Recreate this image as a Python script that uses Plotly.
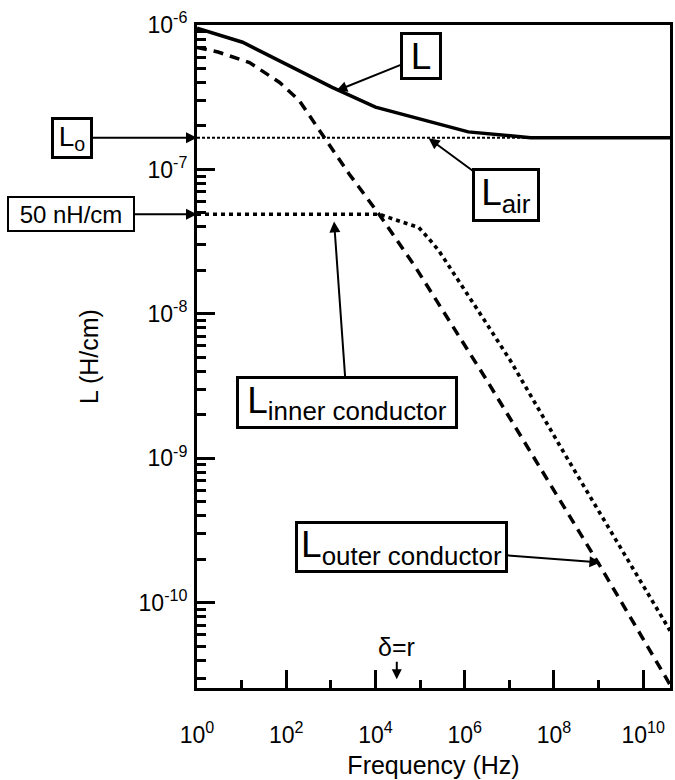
import math
import plotly.graph_objects as go

# ---------------- data ----------------
freq_total = [1, 10.5, 1070, 1.0e4, 1.2e6, 3.0e7, 4.0e10]
L_total = [9.5e-7, 7.6e-7, 3.7e-7, 2.7e-7, 1.82e-7, 1.66e-7, 1.66e-7]

freq_air = [1, 4.0e10]
L_air = [1.66e-7, 1.66e-7]

freq_outer = [1, 2.95, 15, 71, 195, 550, 2570, 1.2e4, 7.9e4, 2.9e6, 2.9e7, 1.1e9, 3.4e10, 4.0e10]
L_outer = [7.0e-7, 6.5e-7, 5.5e-7, 4.0e-7, 3.0e-7, 1.86e-7, 9.3e-8, 4.9e-8, 2.1e-8,
           3.6e-9, 1.12e-9, 1.78e-10, 2.95e-11, 2.7e-11]

freq_inner = [1, 1.2e4, 3.0e4, 5.5e4, 9.3e4, 1.55e5, 2.6e5, 4.3e5, 1.1e6, 2.6e6,
              1.05e7, 1.74e8, 4.0e10]
L_inner = [4.9e-8, 4.9e-8, 4.45e-8, 4.2e-8, 3.97e-8, 3.33e-8, 2.75e-8, 2.17e-8,
           1.41e-8, 9.3e-9, 4.76e-9, 1.07e-9, 6.4e-11]

x_tickvals = [1, 1e2, 1e4, 1e6, 1e8, 1e10]
x_ticktext = ["10<sup>0</sup>", "10<sup>2</sup>", "10<sup>4</sup>", "10<sup>6</sup>",
              "10<sup>8</sup>", "10<sup>10</sup>"]
x_minor = [1e1, 1e3, 1e5, 1e7, 1e9]
y_tickvals = [1e-6, 1e-7, 1e-8, 1e-9, 1e-10]
y_ticktext = ["10<sup>-6</sup>", "10<sup>-7</sup>", "10<sup>-8</sup>", "10<sup>-9</sup>",
              "10<sup>-10</sup>"]
y_minor = [k * 10.0 ** d for d in range(-11, -6) for k in range(2, 10)]

delta_freq = 3.0e4  # skin depth equals radius
L_zero = L_air[0]
L_50nH = L_inner[0]

FONT = "Liberation Sans, Arial, Helvetica, sans-serif"

fig = go.Figure()
fig.add_trace(go.Scatter(x=freq_air, y=L_air, mode="lines",
                         line=dict(color="black", width=2, dash="3px,2px")))
fig.add_trace(go.Scatter(x=freq_inner, y=L_inner, mode="lines",
                         line=dict(color="black", width=3.6, dash="4px,4px")))
fig.add_trace(go.Scatter(x=freq_outer, y=L_outer, mode="lines",
                         line=dict(color="black", width=3.5, dash="10px,7px")))
fig.add_trace(go.Scatter(x=freq_total, y=L_total, mode="lines",
                         line=dict(color="black", width=3.5)))

lg = math.log10
box = dict(bordercolor="black", borderwidth=3, bgcolor="white",
           font=dict(family=FONT, size=37, color="black"),
           arrowcolor="black", arrowwidth=2, arrowhead=2, arrowsize=1.1)

ann = []
# L (total)
ann.append(dict(x=lg(1320), y=lg(3.5e-7), xref="x", yref="y",
                ax=5.03, ay=-6.218, axref="x", ayref="y",
                text="L", showarrow=True, width=34, height=40, **box))
# L_air
ann.append(dict(x=lg(1.55e5), y=lg(L_zero) - 0.005, xref="x", yref="y",
                ax=6.93, ay=-7.18, axref="x", ayref="y",
                text="L<sub>air</sub>", showarrow=True, width=60, height=46, **box))
# L_inner conductor
ann.append(dict(x=lg(1.18e3), y=lg(L_50nH) - 0.05, xref="x", yref="y",
                ax=3.36, ay=-8.613, axref="x", ayref="y",
                text="L<sub>inner conductor</sub>", showarrow=True, width=214, height=45, **box))
# L_outer conductor
ann.append(dict(x=lg(1.1e9), y=lg(1.9e-10), xref="x", yref="y",
                ax=4.59, ay=-9.616, axref="x", ayref="y",
                text="L<sub>outer conductor</sub>", showarrow=True, width=205, height=44, **box))
# L_o on the left
b2 = dict(box)
b2["font"] = dict(family=FONT, size=28, color="black")
ann.append(dict(x=0, y=lg(L_zero), xref="paper", yref="y",
                ax=-125, ay=0, text="L<sub>o</sub>", showarrow=True,
                width=34, height=34, **b2))
b3 = dict(box)
b3["font"] = dict(family=FONT, size=24, color="black")
b3["borderwidth"] = 2
ann.append(dict(x=0, y=lg(L_50nH), xref="paper", yref="y",
                ax=-126, ay=0, text="50 nH/cm", showarrow=True,
                width=122, height=30, **b3))
# delta = r
ann.append(dict(x=lg(delta_freq), y=-10.53, xref="x", yref="y",
                ax=0, ay=-32, text="δ=r", showarrow=True,
                font=dict(family=FONT, size=25, color="black"),
                arrowcolor="black", arrowwidth=2, arrowhead=2, arrowsize=1.0,
                standoff=0, startstandoff=0, borderpad=0))

fig.update_layout(annotations=ann)

fig.update_xaxes(type="log", range=[0, 10.6], tickvals=x_tickvals, ticktext=x_ticktext,
                 ticks="inside", ticklen=18, tickwidth=2.5, tickcolor="black",
                 minor=dict(tickvals=x_minor, ticks="inside", ticklen=8, tickwidth=2.5,
                            tickcolor="black"),
                 showline=True, linewidth=3, linecolor="black", mirror=True,
                 showgrid=False, zeroline=False,
                 tickfont=dict(family=FONT, size=23, color="black"),
                 ticklabelstandoff=24,
                 title=dict(text="Frequency (Hz)", font=dict(family=FONT, size=25, color="black"),
                            standoff=10))
fig.update_yaxes(type="log", range=[-10.59, -6.0], tickvals=y_tickvals, ticktext=y_ticktext,
                 ticks="inside", ticklen=18, tickwidth=2.5, tickcolor="black",
                 minor=dict(tickvals=y_minor, ticks="inside", ticklen=9, tickwidth=2.5,
                            tickcolor="black"),
                 showline=True, linewidth=3, linecolor="black", mirror=True,
                 showgrid=False, zeroline=False,
                 tickfont=dict(family=FONT, size=23, color="black"),
                 ticklabelstandoff=2,
                 title=dict(text="L (H/cm)", font=dict(family=FONT, size=25, color="black"),
                            standoff=33))

fig.update_layout(width=675, height=780, margin=dict(l=197, r=2, t=25, b=92),
                  paper_bgcolor="white", plot_bgcolor="white", showlegend=False,
                  font=dict(family=FONT, color="black"))

fig.write_html("out.html")
